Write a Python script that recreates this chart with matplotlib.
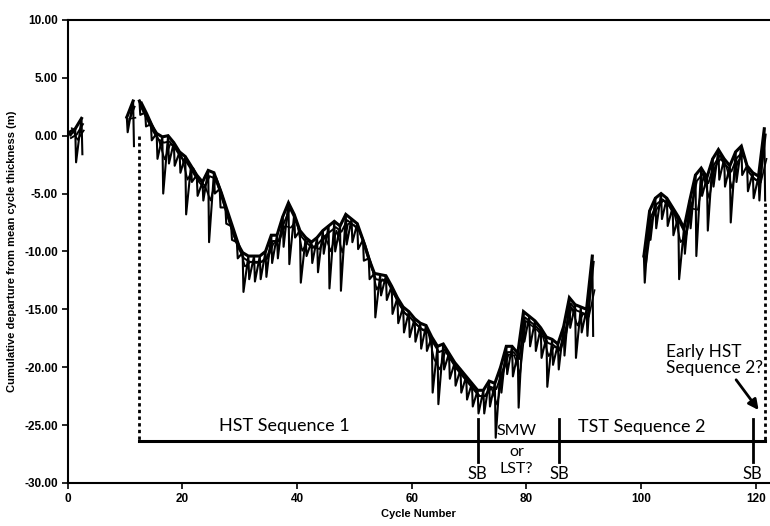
import numpy as np
import matplotlib
matplotlib.use("Agg")
import matplotlib.pyplot as plt

# ---- data ----
# segment A (cycles 0-2)
cyc_a = [0.3, 1.3, 2.4]
top_a = [0.3, 0.6, 1.5]
bot_a = [0.0, -2.3, -1.6]

# segment B (cycles 10-11)
cyc_b = [10.3, 11.4]
top_b = [1.6, 3.0]
bot_b = [0.3, -0.9]

# segment C (cycles 12.5 - 91.5)
cyc_c = list(np.arange(12.5, 92.0, 1.0))
top_c = [3.0, 2.0, 1.0, 0.2, -0.1, 0.0, -0.6, -1.4, -1.8, -2.6,
         -3.4, -4.0, -3.0, -3.2, -4.6, -6.2, -7.8, -9.2, -10.1, -10.4,
         -10.4, -10.4, -10.0, -8.6, -8.6, -7.0, -5.8, -6.8, -8.2, -8.8,
         -9.2, -8.8, -8.2, -7.8, -7.4, -7.8, -6.8, -7.2, -7.6, -9.0,
         -10.6, -11.9, -12.0, -12.1, -13.0, -14.0, -14.8, -15.2, -15.8, -16.2,
         -16.4, -17.4, -18.2, -18.0, -18.8, -19.6, -20.2, -20.8, -21.4, -22.0,
         -22.0, -21.2, -21.4, -20.0, -18.2, -18.2, -18.8, -15.2, -15.6, -16.0,
         -16.6, -17.4, -17.6, -18.0, -16.5, -14.0, -14.6, -14.8, -15.0, -10.4]
bot_c = [1.8, 0.8, -0.4, -2.0, -5.0, -2.4, -2.6, -3.2, -6.8, -4.0,
         -5.2, -5.6, -9.2, -5.0, -6.2, -7.6, -9.0, -10.6, -13.5, -12.4,
         -12.6, -12.4, -12.2, -11.0, -10.6, -9.6, -11.1, -8.8, -12.7, -10.4,
         -11.0, -11.8, -10.2, -13.2, -10.0, -13.4, -9.4, -9.2, -9.8, -10.8,
         -12.4, -15.7, -13.8, -14.2, -15.4, -16.2, -17.0, -17.4, -17.8, -18.4,
         -18.6, -22.2, -23.2, -20.2, -21.0, -21.6, -22.2, -22.8, -23.4, -24.0,
         -24.0, -23.4, -26.1, -22.2, -20.6, -20.8, -23.5, -17.8, -18.2, -18.6,
         -19.2, -21.7, -19.8, -20.2, -19.0, -16.6, -19.2, -17.0, -17.3, -17.3]

# segment D (cycles 100.5 - 121.5)
cyc_d = list(np.arange(100.5, 122.0, 1.0))
top_d = [-10.4, -6.5, -5.4, -5.0, -5.4, -6.2, -7.0, -8.0, -5.6, -3.4,
         -2.8, -3.6, -2.0, -1.2, -2.0, -2.6, -1.4, -0.9, -2.6, -3.2,
         -3.5, 0.6]
bot_d = [-12.7, -9.0, -8.0, -7.2, -7.8, -8.6, -12.4, -10.2, -8.0, -10.4,
         -5.2, -8.2, -4.4, -3.8, -4.4, -7.5, -4.0, -3.4, -4.8, -5.4,
         -5.6, -5.6]

# annotation positions
base_level = -26.4
seq_start = 12.5
seq_end = 121.7
sb_cycles = [71.5, 85.7, 119.5]

segments = [(cyc_a, top_a, bot_a), (cyc_b, top_b, bot_b),
            (cyc_c, top_c, bot_c), (cyc_d, top_d, bot_d)]

fig = plt.figure(figsize=(7.7, 5.26), dpi=100)
ax = fig.add_axes([0.088, 0.082, 0.912, 0.880])

for cyc, top, bot in segments:
    cyc = np.asarray(cyc, float)
    top = np.asarray(top, float)
    bot = np.asarray(bot, float)
    # envelope
    ax.plot(cyc, top, color="black", lw=2.2, solid_joinstyle="miter")
    ax.plot(cyc + 0.25, top - 0.5, color="black", lw=1.4)
    # sawtooth: vertical drop then diagonal rise to next top
    xs = np.column_stack([cyc, cyc + 0.15]).ravel()
    ys = np.column_stack([top, bot]).ravel()
    ax.plot(xs, ys, color="black", lw=1.5)
    # secondary slightly offset trace
    ax.plot(cyc + 0.4, (top + bot) / 2 + 0.5, color="black", lw=1.2)

# baseline and dotted verticals
ax.plot([seq_start, seq_end], [base_level, base_level], color="black", lw=2.2)
ax.plot([seq_start, seq_start], [0.0, base_level], color="black", lw=2.0,
        linestyle=(0, (1.2, 1.2)))
ax.plot([seq_end, seq_end], [-5.8, base_level], color="black", lw=2.0,
        linestyle=(0, (1.2, 1.2)))
for sb in sb_cycles:
    ax.plot([sb, sb], [-24.5, -28.2], color="black", lw=2.0)
    ax.text(sb, -29.2, "SB", ha="center", va="center", fontsize=12,
            family="Lato")

tf = dict(fontsize=13, family="Lato", color="black")
ax.text(37.8, -25.1, "HST Sequence 1", ha="center", va="center", **tf)
ax.text(78.3, -25.5, "SMW", ha="center", va="center", fontsize=11.5, family="Lato")
ax.text(78.3, -27.3, "or", ha="center", va="center", fontsize=11.5, family="Lato")
ax.text(78.3, -28.8, "LST?", ha="center", va="center", fontsize=11.5, family="Lato")
ax.text(100.2, -25.2, "TST Sequence 2", ha="center", va="center", **tf)
ax.text(104.4, -19.4, "Early HST\nSequence 2?", ha="left", va="center",
        linespacing=1.0, fontsize=12.5, family="Lato", color="black")
ax.annotate("", xy=(120.8, -23.9), xytext=(116.3, -20.9),
            arrowprops=dict(arrowstyle="-|>,head_length=0.6,head_width=0.3",
                            color="black", lw=2.0))

ax.set_xlim(0, 122.5)
ax.set_ylim(-30, 10)
ax.set_xticks([0, 20, 40, 60, 80, 100, 120])
ax.set_yticks(np.arange(-30, 10.1, 5))
ax.set_yticklabels([f"{v:.2f}" for v in np.arange(-30, 10.1, 5)])
for lab in ax.get_xticklabels() + ax.get_yticklabels():
    lab.set_fontweight("bold")
    lab.set_family("Liberation Sans")
    lab.set_fontsize(8.5)
ax.tick_params(direction="out", length=4, width=1.2, pad=3)
ax.spines["right"].set_visible(False)
for s in ["left", "top", "bottom"]:
    ax.spines[s].set_linewidth(1.5)

ax.set_xlabel("Cycle Number", fontweight="bold", family="Liberation Sans",
              fontsize=8, labelpad=3)
ax.set_ylabel("Cumulative departure from mean cycle thickness (m)",
              fontweight="bold", family="Liberation Sans", fontsize=8,
              labelpad=5)

fig.savefig("out.png", dpi=100)
